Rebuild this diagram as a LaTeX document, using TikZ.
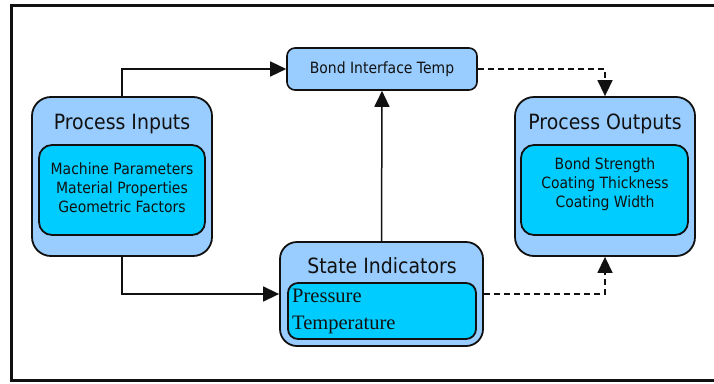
\documentclass[tikz,border=0pt]{standalone}
\usepackage{fontspec}
\newfontfamily\dv[FakeStretch=0.9]{DejaVu Sans}
\newfontfamily\lser{Liberation Serif}
\usetikzlibrary{arrows.meta}
\definecolor{outerblue}{HTML}{99CCFF}
\definecolor{innerblue}{HTML}{00CCFF}
\definecolor{edge}{HTML}{111111}
\tikzset{
  outerbox/.style={draw=edge, line width=1.8pt, fill=outerblue, rounded corners=19pt, inner sep=0pt},
  innerbox/.style={draw=edge, line width=1.8pt, fill=innerblue, rounded corners=13pt, inner sep=0pt},
  smallbox/.style={draw=edge, line width=1.6pt, fill=outerblue, rounded corners=8pt, inner sep=0pt},
  titletext/.style={font=\dv\fontsize{21}{24}\selectfont, inner sep=0pt, text=edge},
  bodytext/.style={font=\dv\fontsize{15.5}{19}\selectfont, align=center, inner sep=0pt, text=edge},
  conn/.style={draw=edge, line width=1.5pt, -{Triangle[length=16pt,width=15pt]}},
  dconn/.style={conn, dash pattern=on 6pt off 4pt},
}
\begin{document}
\begin{tikzpicture}[x=1pt,y=-1pt]
\useasboundingbox (0,0) rectangle (714,383);
\draw[line width=3pt, draw=edge] (716,5.5) -- (11.5,5.5) -- (11.5,380.5) -- (716,380.5);

% Process Inputs
\node[outerbox, minimum width=180pt, minimum height=159pt] (inA) at (122,176.5) {};
\node[innerbox, minimum width=166pt, minimum height=90pt] (inB) at (122,190) {};
\node[titletext] (inT) at (122,124) {Process Inputs};
\node[bodytext] (inX) at (122,187.5) {Machine Parameters\\Material Properties\\Geometric Factors};

% Process Outputs
\node[outerbox, minimum width=180pt, minimum height=159pt] (outA) at (605,176.5) {};
\node[innerbox, minimum width=167pt, minimum height=90pt] (outB) at (604.5,190) {};
\node[titletext] (outT) at (605,124) {Process Outputs};
\node[bodytext] (outX) at (605,184.5) {Bond Strength\\Coating Thickness\\Coating Width};

% Bond Interface Temp
\node[smallbox, minimum width=190pt, minimum height=42pt, bodytext] (bond) at (382,69) {Bond Interface Temp};

% State Indicators
\node[outerbox, rounded corners=17pt, minimum width=203pt, minimum height=104pt] (stA) at (381.5,294) {};
\node[innerbox, rounded corners=10pt, minimum width=188pt, minimum height=56pt] (stB) at (382,311) {};
\node[titletext] (stT) at (382,266) {State Indicators};
\node[font=\lser\fontsize{20.5}{27}\selectfont, align=left, inner sep=0pt, anchor=west, text=edge] (stX) at (292,311.5) {Pressure\\Temperature};

% Connectors
\draw[conn] (inA.north) |- (bond.west);
\draw[conn] (inA.south) |- (stA.west);
\draw[conn] (stA.north) -- (bond.south);
\draw[dconn] (bond.east) -| (outA.north);
\draw[dconn] (stA.east) -| (outA.south);
\end{tikzpicture}
\end{document}
